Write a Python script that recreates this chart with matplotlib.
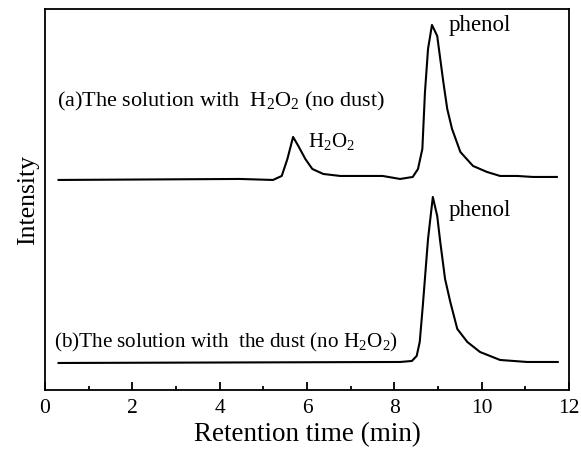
import matplotlib.pyplot as plt
from matplotlib.ticker import MultipleLocator

plt.rcParams['font.family'] = ['Liberation Serif', 'DejaVu Serif']
plt.rcParams['mathtext.fontset'] = 'custom'
plt.rcParams['mathtext.rm'] = 'Liberation Serif'
plt.rcParams['mathtext.it'] = 'Liberation Serif:italic'

# trace (a): solution with H2O2, no dust (offset upward)
time_a = [0.31, 4.46, 5.22, 5.42, 5.55, 5.68, 5.80, 5.96, 6.12, 6.37, 6.76, 7.21,
          7.73, 8.13, 8.42, 8.54, 8.64, 8.70, 8.77, 8.86, 8.98, 9.05, 9.12, 9.21,
          9.32, 9.51, 9.80, 10.12, 10.42, 10.81, 11.17, 11.72]
signal_a = [210, 211, 210, 214, 231, 253, 244, 231, 221, 216, 214, 214,
            214, 211, 213, 221, 241, 298, 341, 365, 354, 331, 308, 281,
            261, 238, 224, 218, 214, 214, 213, 213]

# trace (b): solution with dust, no H2O2
time_b = [0.31, 8.13, 8.40, 8.51, 8.58, 8.65, 8.77, 8.88, 8.98, 9.05, 9.16, 9.28,
          9.44, 9.67, 9.96, 10.42, 11.04, 11.74]
signal_b = [27, 28, 29, 34, 48, 84, 151, 193, 174, 148, 111, 88,
            61, 48, 38, 30, 28, 28]

fig = plt.figure(figsize=(5.81, 4.52), dpi=100)
ax = fig.add_axes([0.0775, 0.135, 0.902, 0.843])

ax.plot(time_a, signal_a, color='black', lw=1.5)
ax.plot(time_b, signal_b, color='black', lw=1.5)

ax.set_xlim(0, 12)
ax.set_ylim(0, 381)
ax.xaxis.set_major_locator(MultipleLocator(2))
ax.xaxis.set_minor_locator(MultipleLocator(1))
ax.set_yticks([])
ax.tick_params(axis='x', which='major', direction='in', length=6, width=1.3,
               labelsize=15.5, pad=6)
ax.tick_params(axis='x', which='minor', direction='in', length=3, width=1.3)
for s in ax.spines.values():
    s.set_linewidth(1.3)

ax.set_xlabel('Retention time (min)', fontsize=19.5, labelpad=3)
ax.set_ylabel('Intensity', fontsize=18.5, labelpad=4)

ax.text(0.27, 289, r'(a)The solution with  H$_2$O$_2$ (no dust)', fontsize=16, va='center')
ax.text(6.02, 249, r'H$_2$O$_2$', fontsize=15, va='center')
ax.text(9.23, 365, 'phenol', fontsize=16.5, va='center')
ax.text(9.23, 180, 'phenol', fontsize=16.5, va='center')
ax.text(0.2, 48, r'(b)The solution with  the dust (no H$_2$O$_2$)', fontsize=15.2, va='center')

fig.savefig('out.png', dpi=100)
